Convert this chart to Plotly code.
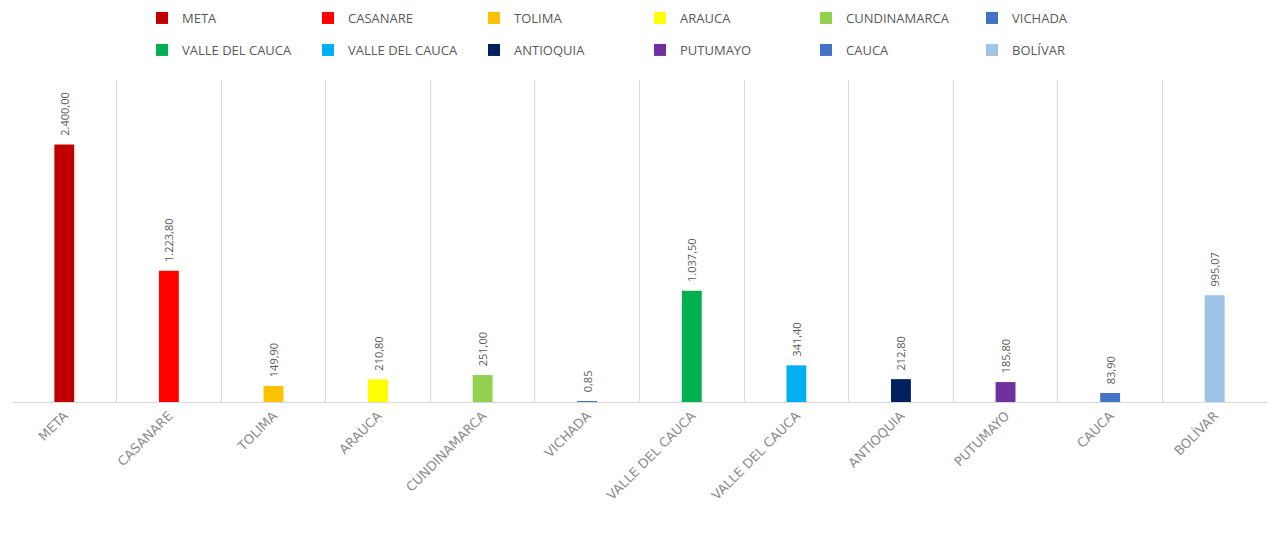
import plotly.graph_objects as go

categories = ["META", "CASANARE", "TOLIMA", "ARAUCA", "CUNDINAMARCA", "VICHADA",
              "VALLE DEL CAUCA", "VALLE DEL CAUCA", "ANTIOQUIA", "PUTUMAYO", "CAUCA", "BOLÍVAR"]
values = [2400.00, 1223.80, 149.90, 210.80, 251.00, 0.85,
          1037.50, 341.40, 212.80, 185.80, 83.90, 995.07]
colors = ["#C00000", "#FF0000", "#FFC000", "#FFFF00", "#92D050", "#4472C4",
          "#00B050", "#00B0F0", "#002060", "#7030A0", "#4472C4", "#9DC3E6"]

positions = list(range(len(categories)))

# the page body has an 8px margin; the figure is sized to fit the window
W, H = 1269, 530

fig = go.Figure()
for i, (cat, val, col) in enumerate(zip(categories, values, colors)):
    fig.add_trace(go.Bar(
        x=[positions[i]], y=[val], name=cat,
        marker=dict(color=col, line=dict(width=0)),
        width=0.19,
        texttemplate="\u00a0\u00a0%{y:,.2f}",
        textposition="outside", textangle=-90,
        constraintext="none",
        textfont=dict(family="Open Sans", size=11, color="#595959"),
        cliponaxis=False,
        legend="legend" if i < 6 else "legend2",
        hoverinfo="x+y",
    ))

legend_common = dict(
    orientation="h", xref="container", yref="container",
    x=134 / W, xanchor="left", yanchor="middle",
    entrywidth=121, entrywidthmode="pixels",
    font=dict(family="Open Sans", size=13, color="#595959"),
    bgcolor="rgba(0,0,0,0)",
    traceorder="normal",
)

fig.update_layout(
    width=W, height=H,
    margin=dict(l=4, r=10, t=72, b=136),
    paper_bgcolor="white", plot_bgcolor="white",
    separators=",.",
    barmode="overlay",
    showlegend=True,
    legend=dict(y=1 - 10 / H, **legend_common),
    legend2=dict(y=1 - 42 / H, **legend_common),
    xaxis=dict(
        range=[-0.5, len(categories) - 0.5],
        tickmode="array", tickvals=positions, ticktext=categories,
        tickangle=-45,
        tickfont=dict(family="DejaVu Sans", size=13, color="#8c8c8c"),
        showgrid=False, zeroline=False,
        showline=True, linecolor="#d9d9d9", linewidth=1,
        ticks="",
        minor=dict(tickmode="linear", tick0=-0.5, dtick=1, showgrid=True,
                   gridcolor="#d9d9d9", gridwidth=1, ticks=""),
    ),
    yaxis=dict(
        range=[0, 3000], visible=False, showgrid=False, zeroline=False,
    ),
)

fig.write_html("out.html")
